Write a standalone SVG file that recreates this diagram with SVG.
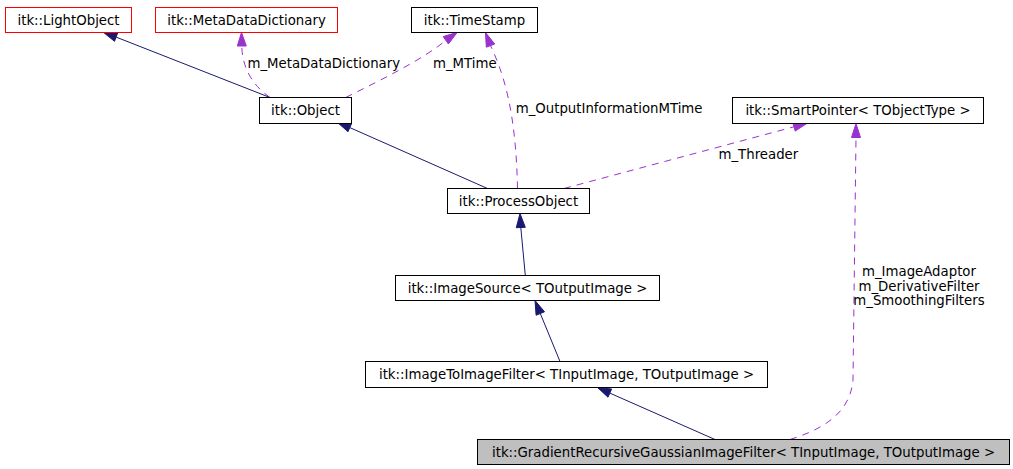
<svg xmlns="http://www.w3.org/2000/svg" width="1013" height="469" viewBox="0 0 1013 469">
<style>
  .box { fill: #ffffff; stroke: #000000; stroke-width: 1; }
  .red { stroke: #ff0000; }
  .gray { fill: #bfbfbf; }
  .nt { font-family: "DejaVu Sans", "Liberation Sans", sans-serif; font-size: 13.3px; fill: #000000; text-anchor: middle; }
  .lt { font-family: "DejaVu Sans", "Liberation Sans", sans-serif; font-size: 13.3px; fill: #000000; }
  .inh { fill: none; stroke: #191970; stroke-width: 1; }
  .inhh { fill: #191970; stroke: #191970; stroke-width: 1; }
  .use { fill: none; stroke: #9a32cd; stroke-width: 1; stroke-dasharray: 7,6; }
  .useh { fill: #9a32cd; stroke: #9a32cd; stroke-width: 1; }
</style>
<rect width="1013" height="469" fill="#ffffff"/>

<g id="connectors">
  <!-- Object -> LightObject -->
  <path class="inh" d="M270,97.5 L116.1,37.1"/>
  <polygon class="inhh" points="103,32 117.7,32.9 114.5,41.3"/>
  <!-- Object -> MetaDataDictionary -->
  <path class="use" d="M270,97.5 C249,83 242,63 241.8,46"/>
  <polygon class="useh" points="241.5,32.5 246.3,46 237.3,46"/>
  <!-- Object -> TimeStamp (m_MTime) -->
  <path class="use" d="M345.7,97.5 C385,78 425,58 445.8,40.3"/>
  <polygon class="useh" points="457.3,32.3 448.4,44 443.2,36.6"/>
  <!-- ProcessObject -> Object -->
  <path class="inh" d="M487.5,188.5 L349.8,127.6"/>
  <polygon class="inhh" points="337,122 351.6,123.5 348,131.7"/>
  <!-- ProcessObject -> TimeStamp (m_OutputInformationMTime) -->
  <path class="use" d="M517.5,188.5 C516,110 503,72 490.5,45.6"/>
  <polygon class="useh" points="485.5,32.5 494.7,44 486.3,47.2"/>
  <!-- ProcessObject -> SmartPointer (m_Threader) -->
  <path class="use" d="M564,188.5 L794,126.8"/>
  <polygon class="useh" points="807.5,123 795.2,131.1 792.8,122.5"/>
  <!-- ImageSource -> ProcessObject -->
  <path class="inh" d="M525.3,275.5 L520.8,227.5"/>
  <polygon class="inhh" points="520,213.5 525.3,227.3 516.3,227.7"/>
  <!-- ImageToImageFilter -> ImageSource -->
  <path class="inh" d="M560,361.5 L540.3,313.5"/>
  <polygon class="inhh" points="535,300.5 544.5,311.8 536.1,315.2"/>
  <!-- Gradient -> ImageToImageFilter -->
  <path class="inh" d="M715,439.5 L609.8,393.1"/>
  <polygon class="inhh" points="597.5,387.5 611.6,389 608,397.2"/>
  <!-- Gradient -> SmartPointer -->
  <path class="use" d="M790,439.5 C820,430 850,415 853,380 L856,137.5"/>
  <polygon class="useh" points="856,123.5 860.5,137.5 851.5,137.5"/>

  <text class="lt" x="247.5" y="67.7">m_MetaDataDictionary</text>
  <text class="lt" x="433" y="67.7">m_MTime</text>
  <text class="lt" x="515.7" y="113.3">m_OutputInformationMTime</text>
  <text class="lt" x="718.5" y="158.5">m_Threader</text>
  <text class="nt" x="919" y="276">m_ImageAdaptor</text>
  <text class="nt" x="919" y="290.5">m_DerivativeFilter</text>
  <text class="nt" x="919" y="305">m_SmoothingFilters</text>
</g>

<g id="node-lightobject">
  <rect class="box red" x="5.5" y="7.5" width="126" height="25"/>
  <text class="nt" x="68.5" y="24.8">itk::LightObject</text>
</g>
<g id="node-metadatadictionary">
  <rect class="box red" x="155.5" y="7.5" width="182" height="25"/>
  <text class="nt" x="246.5" y="24.8">itk::MetaDataDictionary</text>
</g>
<g id="node-timestamp">
  <rect class="box" x="411.5" y="7.5" width="126" height="25"/>
  <text class="nt" x="474.5" y="24.8">itk::TimeStamp</text>
</g>
<g id="node-object">
  <rect class="box" x="259.5" y="97.5" width="92" height="26"/>
  <text class="nt" x="305.5" y="115.3">itk::Object</text>
</g>
<g id="node-smartpointer">
  <rect class="box" x="732.5" y="97.5" width="251" height="26"/>
  <text class="nt" x="858" y="115.3">itk::SmartPointer&lt; TObjectType &gt;</text>
</g>
<g id="node-processobject">
  <rect class="box" x="447.5" y="188.5" width="142" height="25"/>
  <text class="nt" x="518.5" y="205.8">itk::ProcessObject</text>
</g>
<g id="node-imagesource">
  <rect class="box" x="395.5" y="275.5" width="264" height="25"/>
  <text class="nt" x="527.5" y="292.8">itk::ImageSource&lt; TOutputImage &gt;</text>
</g>
<g id="node-imagetoimagefilter">
  <rect class="box" x="365.5" y="361.5" width="402" height="26"/>
  <text class="nt" x="566.5" y="379.3">itk::ImageToImageFilter&lt; TInputImage, TOutputImage &gt;</text>
</g>
<g id="node-gradient">
  <rect class="box gray" x="477.5" y="439.5" width="532" height="25"/>
  <text class="nt" x="743.5" y="456.5">itk::GradientRecursiveGaussianImageFilter&lt; TInputImage, TOutputImage &gt;</text>
</g>
</svg>
